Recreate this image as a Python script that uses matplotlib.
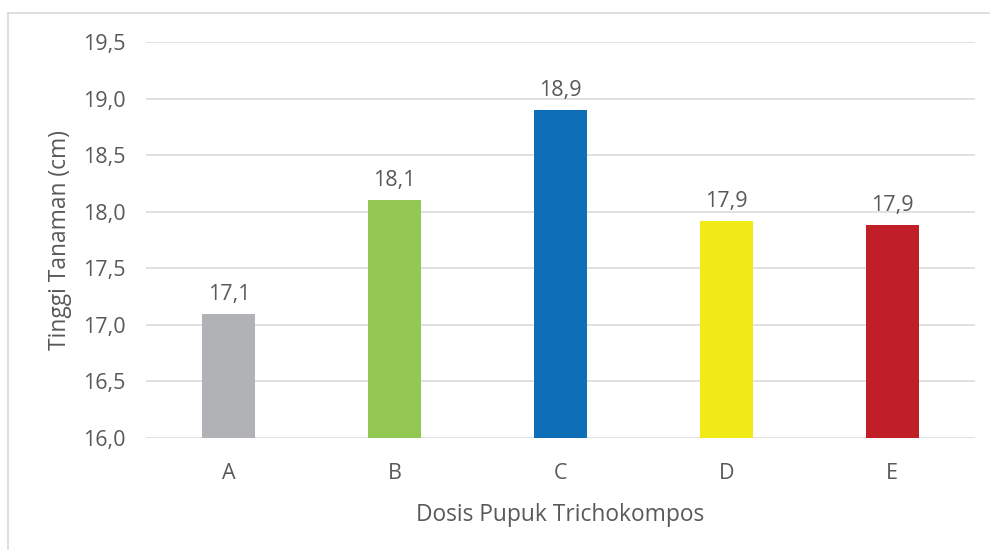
import matplotlib
matplotlib.use("Agg")
import matplotlib.pyplot as plt
from matplotlib.lines import Line2D

categories = ["A", "B", "C", "D", "E"]
values = [17.1, 18.1, 18.9, 17.92, 17.88]
labels = ["17,1", "18,1", "18,9", "17,9", "17,9"]
colors = ["#B1B2B5", "#92C852", "#0E6EB8", "#F2EA16", "#C01F28"]
yticks = [16.0, 16.5, 17.0, 17.5, 18.0, 18.5, 19.0, 19.5]
ytick_labels = ["16,0", "16,5", "17,0", "17,5", "18,0", "18,5", "19,0", "19,5"]

plt.rcParams['font.family'] = ['Open Sans', 'DejaVu Sans']
txt = "#595959"

fig = plt.figure(figsize=(9.9, 5.5), dpi=100)
ax = fig.add_axes([0.1475, 0.2036, 0.8375, 0.72])

x = list(range(len(categories)))
ax.bar(x, [v - 16.0 for v in values], bottom=16.0, width=0.32, color=colors, zorder=3)
for xi, v, lab in zip(x, values, labels):
    ax.text(xi, v + 0.08, lab, ha="center", va="bottom", fontsize=15.5, color=txt)

ax.set_xlim(-0.5, 4.5)
ax.set_ylim(16.0, 19.5)
ax.set_yticks(yticks)
ax.set_yticklabels(ytick_labels)
ax.set_xticks(x)
ax.set_xticklabels(categories)
ax.tick_params(axis="both", length=0, labelsize=15.5, labelcolor=txt)
ax.tick_params(axis="y", pad=14.5)
ax.tick_params(axis="x", pad=18)
ax.grid(axis="y", color="#D9D9D9", linewidth=1.1, zorder=0)
for s in ax.spines.values():
    s.set_visible(False)

ax.set_xlabel("Dosis Pupuk Trichokompos", fontsize=16.4, color=txt, labelpad=14)
ax.set_ylabel("Tinggi Tanaman (cm)", fontsize=16.4, color=txt, labelpad=8)

fig.add_artist(Line2D([8/990, 1.0], [1 - 13/550, 1 - 13/550], color="#D9D9D9", linewidth=1.2))
fig.add_artist(Line2D([8/990, 8/990], [0.0, 1 - 13/550], color="#D9D9D9", linewidth=1.2))

fig.savefig("out.png", dpi=100)
